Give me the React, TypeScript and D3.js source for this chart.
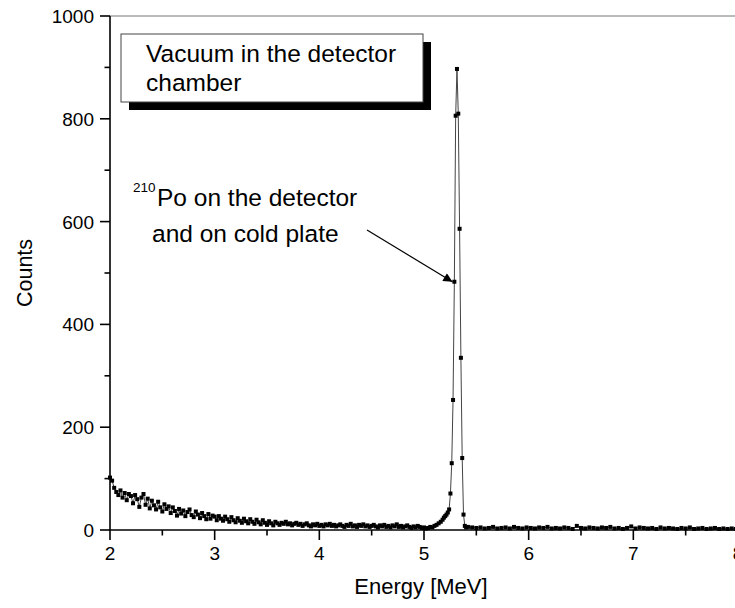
import React from "react";
import * as d3 from "d3";

// Spectrum: regular low-energy channels (start 2.00 MeV, step 0.02 MeV)
const lowStart = 2.0;
const lowStep = 0.02;
const lowCounts = [
  102, 96, 82, 74, 68, 77, 63, 72, 58, 70,
  66, 52, 68, 60, 45, 63, 70, 49, 61, 42,
  57, 48, 40, 55, 44, 36, 50, 41, 46, 33,
  44, 37, 28, 41, 32, 38, 27, 35, 40, 29,
  25, 36, 30, 23, 33, 27, 21, 31, 22, 28,
  26, 19, 27, 22, 18, 26, 21, 16, 25, 19,
  15, 23, 18, 14, 22, 17, 13, 21, 16, 12,
  20, 15, 11, 19, 14, 10, 17, 13, 9, 16,
  13, 10, 14, 12, 16, 11, 13, 9, 12, 14,
  10, 12, 8, 11, 13, 9, 7, 11, 9, 12,
  8, 10, 7, 11, 9, 12, 8, 10, 7, 9,
  11, 8, 6, 10, 8, 12, 7, 9, 6, 10,
  8, 11, 7, 9, 6, 8, 10, 7, 5, 9,
  7, 10, 6, 8, 5, 9, 7, 11, 6, 8,
  5, 7, 9, 6, 4, 7, 5, 8, 6, 4,
  5, 3, 4, 6, 5, 8, 10, 13, 16,
];

// 210Po peak region
const peakEnergies = [
  5.1775, 5.19, 5.2025, 5.215, 5.2275, 5.24, 5.2525, 5.265, 5.2775, 5.29,
  5.3025, 5.315, 5.3275, 5.34, 5.3525, 5.365, 5.3775, 5.39, 5.4025,
];
const peakCounts = [
  20, 24, 27, 30, 34, 40, 71, 130, 253, 483,
  806, 897, 810, 586, 335, 140, 30, 8, 5,
];

// High-energy tail (start 5.42 MeV, step 0.04 MeV)
const highStart = 5.42;
const highStep = 0.04;
const highCounts = [
  6, 5, 4, 5, 3, 4, 6, 3, 4, 5,
  3, 6, 4, 3, 5, 4, 3, 5, 4, 6,
  3, 4, 3, 5, 4, 2, 8, 4, 3, 5,
  4, 3, 5, 4, 6, 3, 4, 2, 4, 7,
  3, 5, 4, 3, 4, 2, 5, 3, 4, 3,
  2, 4, 3, 5, 2, 3, 4, 2, 3, 4,
  2, 3, 2, 3, 2,
];

const xMajorTicks = [2, 3, 4, 5, 6, 7, 8];
const xMinorTicks = [2.5, 3.5, 4.5, 5.5, 6.5, 7.5];
const yMajorTicks = [0, 200, 400, 600, 800, 1000];
const yMinorTicks = [100, 300, 500, 700, 900];

const FONT = "'Liberation Sans', Arial, Helvetica, sans-serif";

export default function App() {
  const W = 735;
  const H = 608;
  const x = d3.scaleLinear().domain([2, 8]).range([110, 738]);
  const y = d3.scaleLinear().domain([0, 1000]).range([530, 16]);

  const pts: [number, number][] = [];
  lowCounts.forEach((c, i) => pts.push([lowStart + i * lowStep, c]));
  peakCounts.forEach((c, i) => pts.push([peakEnergies[i], c]));
  highCounts.forEach((c, i) => pts.push([highStart + i * highStep, c]));

  const line = d3
    .line<[number, number]>()
    .x((d) => x(d[0]))
    .y((d) => y(d[1]));

  const ms = 4;
  const x0 = x(2);
  const y0 = y(0);
  const yTop = y(1000);

  return (
    <div style={{ position: "absolute", left: 0, top: 0 }}>
      <svg width={W} height={H} style={{ display: "block", background: "#fff" }} fontFamily={FONT}>
        {/* top frame line */}
        <line x1={x0} x2={W} y1={yTop} y2={yTop} stroke="#777" strokeWidth={1} />

        {/* data line */}
        <path d={line(pts) || ""} fill="none" stroke="#444" strokeWidth={1} />
        {pts.map((d, i) => (
          <rect
            key={i}
            x={x(d[0]) - ms / 2}
            y={y(d[1]) - ms / 2}
            width={ms}
            height={ms}
            fill="#000"
          />
        ))}

        {/* axes */}
        <line x1={x0} x2={x0} y1={yTop} y2={y0 + 0.5} stroke="#000" strokeWidth={1.6} />
        <line x1={x0} x2={W} y1={y0} y2={y0} stroke="#000" strokeWidth={1.6} />

        {xMajorTicks.map((t) => (
          <g key={"xm" + t}>
            <line x1={x(t)} x2={x(t)} y1={y0} y2={y0 + 10} stroke="#000" strokeWidth={1.6} />
            <text x={x(t)} y={y0 + 30} textAnchor="middle" fontSize={19} fill="#000">
              {t}
            </text>
          </g>
        ))}
        {xMinorTicks.map((t) => (
          <line key={"xn" + t} x1={x(t)} x2={x(t)} y1={y0} y2={y0 + 5.5} stroke="#000" strokeWidth={1.6} />
        ))}

        {yMajorTicks.map((t) => (
          <g key={"ym" + t}>
            <line x1={x0 - 10} x2={x0} y1={y(t)} y2={y(t)} stroke="#000" strokeWidth={1.6} />
            <text x={x0 - 16} y={y(t) + 7} textAnchor="end" fontSize={19} fill="#000">
              {t}
            </text>
          </g>
        ))}
        {yMinorTicks.map((t) => (
          <line key={"yn" + t} x1={x0 - 5.5} x2={x0} y1={y(t)} y2={y(t)} stroke="#000" strokeWidth={1.6} />
        ))}

        {/* axis titles */}
        <text x={(x(2) + x(8)) / 2 - 3} y={594} textAnchor="middle" fontSize={22} fill="#000">
          Energy [MeV]
        </text>
        <text
          transform={`translate(32, ${(y0 + yTop) / 2}) rotate(-90)`}
          textAnchor="middle"
          fontSize={21.5}
          fill="#000"
        >
          Counts
        </text>

        {/* legend box with shadow */}
        <rect x={129} y={42} width={302} height={68} fill="#000" />
        <rect x={121} y={34} width={302} height={68} fill="#fff" stroke="#444" strokeWidth={1} />
        <text x={146} y={62} fontSize={24.5} fill="#000">
          Vacuum in the detector
        </text>
        <text x={146} y={91} fontSize={24.5} fill="#000">
          chamber
        </text>

        {/* annotation */}
        <text x={133} y={192} fontSize={13.5} fill="#000">
          210
        </text>
        <text x={157} y={206} fontSize={24.5} fill="#000">
          Po on the detector
        </text>
        <text x={152} y={242} fontSize={24.5} fill="#000">
          and on cold plate
        </text>
        <defs>
          <marker id="arr" viewBox="0 0 10 10" refX={10} refY={5} markerWidth={13} markerHeight={9} orient="auto" markerUnits="userSpaceOnUse">
            <path d="M0,0 L10,5 L0,10 z" fill="#000" />
          </marker>
        </defs>
        <line
          x1={367}
          y1={230}
          x2={x(5.29) - 2}
          y2={y(483)}
          stroke="#000"
          strokeWidth={1.2}
          markerEnd="url(#arr)"
        />
      </svg>
    </div>
  );
}
